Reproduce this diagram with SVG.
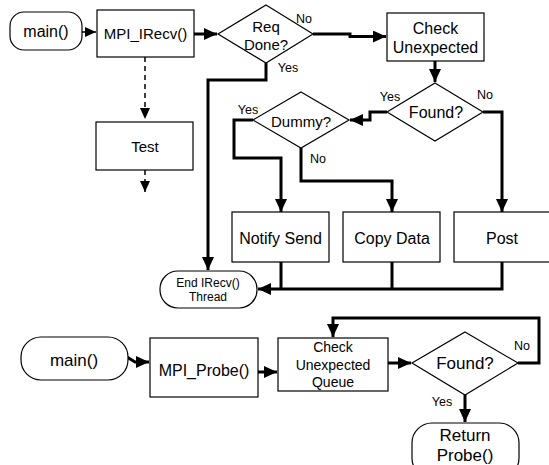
<svg xmlns="http://www.w3.org/2000/svg" width="549" height="465" viewBox="0 0 549 465">
  <style>
    .box { fill: #fff; stroke: #000; stroke-width: 1.2; }
    .flow { fill: none; stroke: #000; stroke-width: 3; }
    .thin { fill: none; stroke: #000; stroke-width: 1.5; }
    .dash { fill: none; stroke: #000; stroke-width: 1.5; stroke-dasharray: 5 4; }
    text { font-family: "Liberation Sans", Arial, Helvetica, sans-serif; fill: #000; text-anchor: middle; }
    .t16 { font-size: 16px; }
    .t15 { font-size: 15px; }
    .t17 { font-size: 17px; }
    .t14 { font-size: 14px; }
    .t12 { font-size: 12px; }
    .lbl { font-size: 12.5px; }
  </style>
  <defs>
    <marker id="head" markerUnits="userSpaceOnUse" markerWidth="14" markerHeight="12" refX="13" refY="6" orient="auto">
      <path d="M0,0 L13,6 L0,12 z" fill="#000"/>
    </marker>
    <marker id="headSmall" markerUnits="userSpaceOnUse" markerWidth="12" markerHeight="10" refX="11" refY="5" orient="auto">
      <path d="M0,0 L11,5 L0,10 z" fill="#000"/>
    </marker>
  </defs>

  <!-- connectors -->
  <g id="connectors">
    <!-- receive thread -->
    <path class="thin" d="M82,32 L96,32" marker-end="url(#headSmall)"/>
    <path class="flow" d="M194,34 L217,34" marker-end="url(#head)"/>
    <path class="dash" d="M145,57 L145,119" marker-end="url(#headSmall)"/>
    <path class="dash" d="M145,170 L145,192" marker-end="url(#headSmall)"/>
    <path class="flow" d="M313,34 L350,34 L350,36.5 L386,36.5" marker-end="url(#head)"/>
    <path class="flow" d="M266,63 L266,80 L208,80 L208,270" marker-end="url(#head)"/>
    <path class="flow" d="M435,61 L435,82" marker-end="url(#head)"/>
    <path class="flow" d="M387,112 L370,112 L370,120 L350,120" marker-end="url(#head)"/>
    <path class="flow" d="M483,112 L502,112 L502,212" marker-end="url(#head)"/>
    <path class="flow" d="M253,120 L234,120 L234,158 L281,158 L281,212" marker-end="url(#head)"/>
    <path class="flow" d="M301,148 L301,181 L392,181 L392,212" marker-end="url(#head)"/>
    <path class="flow" d="M281,262 L281,289"/>
    <path class="flow" d="M392,262 L392,289"/>
    <path class="flow" d="M502,262 L502,289 L258,289" marker-end="url(#head)"/>
    <!-- probe -->
    <path class="flow" d="M127,357 L135,362 L149,362" marker-end="url(#head)" stroke-width="2.5"/>
    <path class="flow" d="M258,372 L277,372" marker-end="url(#head)"/>
    <path class="flow" d="M388,363 L411,363" marker-end="url(#head)"/>
    <path class="flow" d="M518,363 L539,363 L539,318 L333,318 L333,337" marker-end="url(#head)"/>
    <path class="flow" d="M465,395 L465,422" marker-end="url(#head)"/>
  </g>

  <!-- receive thread nodes -->
  <g id="main1">
    <rect class="box" x="10" y="12" width="72" height="38" rx="14"/>
    <text class="t16" x="46" y="37">main()</text>
  </g>
  <g id="irecv">
    <rect class="box" x="97" y="10" width="97" height="47"/>
    <text class="t15" x="145.5" y="39">MPI_IRecv()</text>
  </g>
  <g id="test">
    <rect class="box" x="96" y="122" width="97" height="48"/>
    <text class="t15" x="145" y="152">Test</text>
  </g>
  <g id="reqDone">
    <polygon class="box" points="266,5 313,34 266,63 218,34"/>
    <text class="t15" x="266" y="32">Req</text>
    <text class="t15" x="266" y="50">Done?</text>
  </g>
  <g id="checkUnexpected">
    <rect class="box" x="387" y="13" width="97" height="48"/>
    <text class="t16" x="435.5" y="34">Check</text>
    <text class="t16" x="435.5" y="53">Unexpected</text>
  </g>
  <g id="found1">
    <polygon class="box" points="435,83 483,112 435,141 387,112"/>
    <text class="t16" x="436" y="118">Found?</text>
  </g>
  <g id="dummy">
    <polygon class="box" points="301,92 349,120 301,148 253,120"/>
    <text class="t15" x="301" y="127">Dummy?</text>
  </g>
  <g id="notifySend">
    <rect class="box" x="232" y="212" width="97" height="50"/>
    <text class="t16" x="280.5" y="244">Notify Send</text>
  </g>
  <g id="copyData">
    <rect class="box" x="343" y="212" width="97" height="50"/>
    <text class="t16" x="392" y="244">Copy Data</text>
  </g>
  <g id="post">
    <rect class="box" x="454" y="212" width="100" height="50"/>
    <text class="t16" x="502" y="244">Post</text>
  </g>
  <g id="endIrecv">
    <rect class="box" x="160" y="271" width="97" height="37" rx="18"/>
    <text class="t12" x="208" y="287">End IRecv()</text>
    <text class="t12" x="208" y="301">Thread</text>
  </g>

  <!-- branch labels -->
  <g id="labels">
    <text class="lbl" x="304" y="23">No</text>
    <text class="lbl" x="288" y="72">Yes</text>
    <text class="lbl" x="390" y="101">Yes</text>
    <text class="lbl" x="485" y="99">No</text>
    <text class="lbl" x="248" y="114">Yes</text>
    <text class="lbl" x="318" y="163">No</text>
    <text class="lbl" x="522" y="350">No</text>
    <text class="lbl" x="442" y="406">Yes</text>
  </g>

  <!-- probe nodes -->
  <g id="main2">
    <rect class="box" x="21" y="337" width="107" height="43" rx="20"/>
    <text class="t17" x="74" y="366">main()</text>
  </g>
  <g id="probe">
    <rect class="box" x="150" y="338" width="108" height="59"/>
    <text class="t16" x="204" y="376">MPI_Probe()</text>
  </g>
  <g id="checkQueue">
    <rect class="box" x="278" y="338" width="110" height="53"/>
    <text class="t14" x="333" y="352">Check</text>
    <text class="t14" x="333" y="370">Unexpected</text>
    <text class="t14" x="333" y="387">Queue</text>
  </g>
  <g id="found2">
    <polygon class="box" points="465,332 518,363 465,395 412,363"/>
    <text class="t17" x="465" y="369">Found?</text>
  </g>
  <g id="returnProbe">
    <rect class="box" x="412" y="423" width="107" height="55" rx="20"/>
    <text class="t17" x="465" y="441">Return</text>
    <text class="t17" x="465" y="461">Probe()</text>
  </g>
</svg>
